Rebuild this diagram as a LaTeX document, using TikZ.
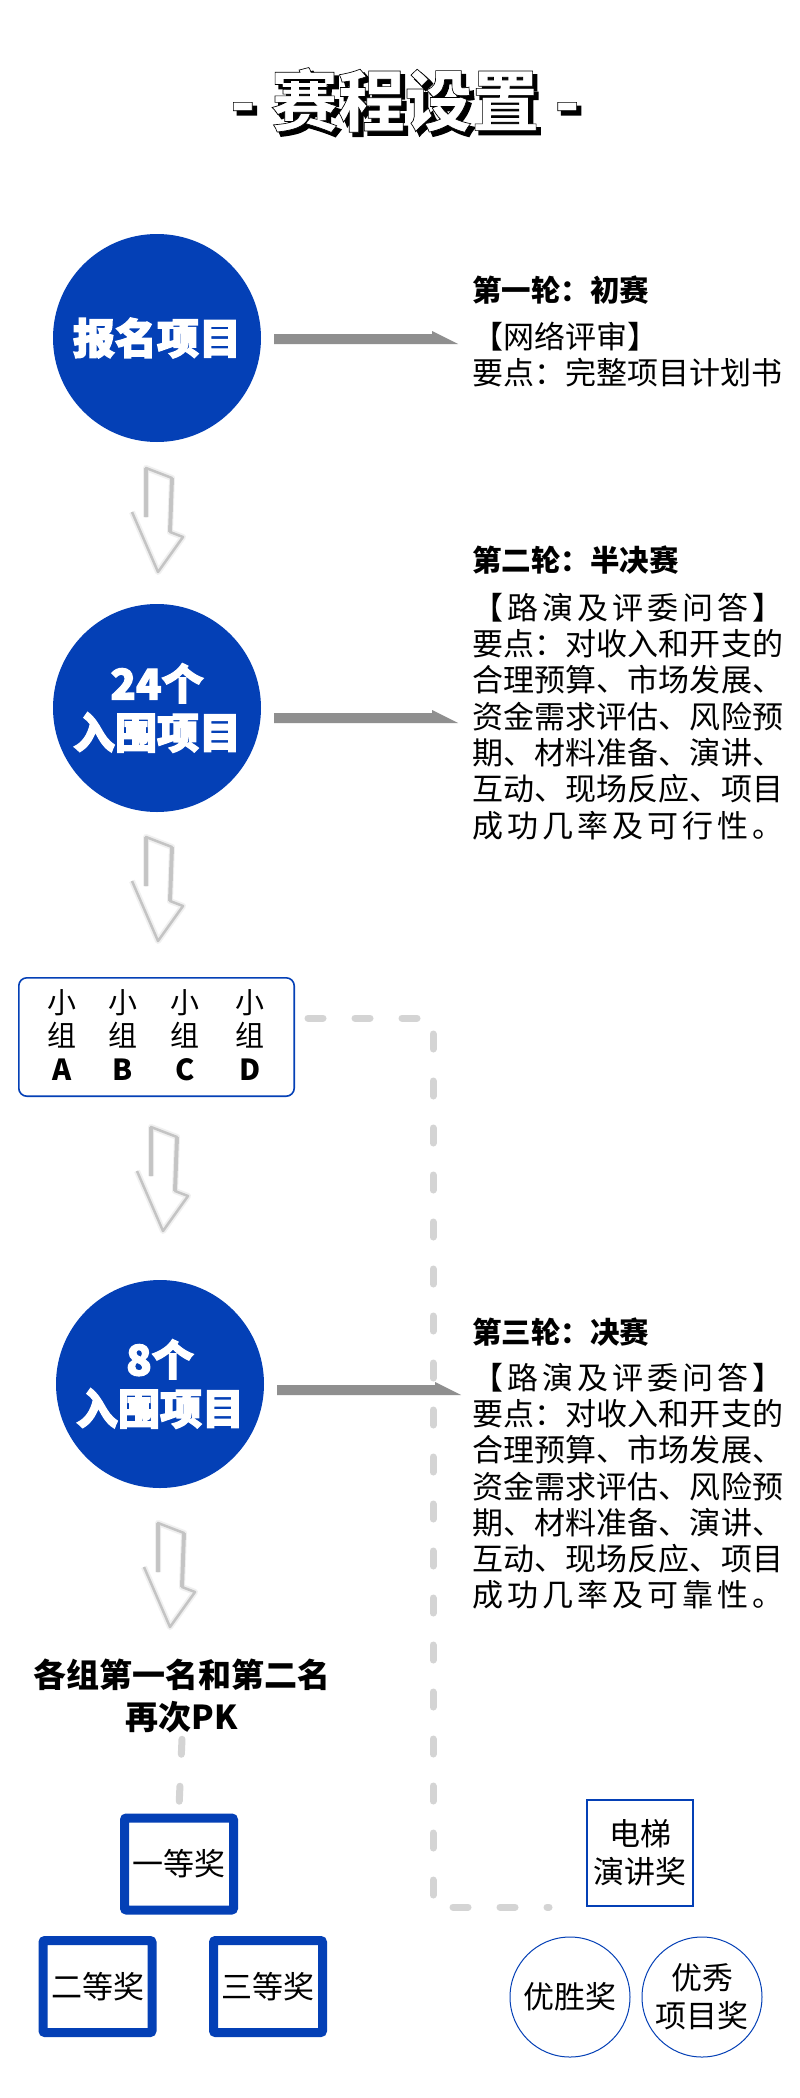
\documentclass[tikz,border=0pt]{standalone}
\usepackage{fontspec}
\setmainfont{Noto Sans CJK SC}
\newfontfamily\heavyfont{Noto Sans CJK SC}[FakeBold=3]
\newfontfamily\ttlfont{Noto Sans CJK SC}[FakeBold=1]
\newfontfamily\ttlshadowfont{Noto Sans CJK SC}[FakeBold=2.5]
\definecolor{cblue}{RGB}{4,64,182}
\definecolor{agray}{RGB}{143,143,143}
\definecolor{dgray}{RGB}{212,212,212}
\definecolor{ogray}{RGB}{196,196,196}
\def\sprd#1{\sprdA#1\relax\relax}
\def\sprdA#1#2{#1\ifx\relax#2\else\hfil\expandafter\sprdA\expandafter#2\fi}
\tikzset{
  bodytxt/.style={anchor=west, inner sep=0pt, font=\fontsize{31}{36}\selectfont},
  headtxt/.style={anchor=west, inner sep=0pt, font=\bfseries\fontsize{29.5}{36}\selectfont},
  bigcirc/.style={circle, fill=cblue, minimum size=208pt, inner sep=0pt, text=white, align=center, font=\heavyfont\bfseries\fontsize{42}{49}\selectfont},
  awardbox/.style={draw=cblue, fill=white, line width=9pt, rounded corners=2pt, minimum width=109pt, minimum height=92pt, inner sep=0pt, font=\fontsize{31}{36}\selectfont},
  thinbox/.style={draw=cblue, line width=2pt, minimum width=106pt, minimum height=106pt, inner sep=0pt, align=center, font=\fontsize{31}{38}\selectfont},
  thincirc/.style={circle, draw=cblue, line width=1pt, minimum size=120pt, inner sep=0pt, align=center, font=\fontsize{31}{38}\selectfont},
  grpcol/.style={inner sep=0pt, align=center, font=\fontsize{29}{33.5}\selectfont},
  dashline/.style={draw=dgray, line width=7pt, line cap=round, dash pattern=on 15pt off 32pt},
  darrowline/.style={draw=ogray, line width=2.5pt, line join=round},
  downarr/.pic={
    \draw[line width=6pt, draw=black!6, line join=round] (0,49) -- (0,0) -- (26,10) -- (24,64) -- (37,69) -- (12,104) -- (-14,44);
    \draw[line width=4pt, draw=black!22] (0,49) -- (0,0) (26,10) -- (24,64);
    \draw[darrowline] (0,49) -- (0,0) -- (26,10) -- (24,64) -- (37,69) -- (12,104) -- (-14,44);
  }
}
\newcommand\harrow[2]{\fill[agray] ([shift={(13,#2)}]#1.east) -- ++(158,0) -- ++(0,-3) -- ++(26,13) -- ++(-184,0) -- cycle;}
\newcommand\bline[3]{\node[bodytxt] (#1) at (472,#2) {\makebox[311pt][s]{\sprd{#3}}};}
\begin{document}
\begin{tikzpicture}[x=1pt,y=-1pt]
\useasboundingbox (0,0) rectangle (800,2098);
\fill[white] (0,0) rectangle (800,2098);

% title
\node[text=black, inner sep=0pt, font=\ttlshadowfont\bfseries\fontsize{67}{70}\selectfont] (ttlshadow) at (409,104) {- 赛程设置 -};
\node[text=white, inner sep=0pt, font=\ttlfont\bfseries\fontsize{67}{70}\selectfont] (ttl) at (405,100) {\special{pdf:literal direct 0 G}- 赛程设置 -};

% circles
\node[bigcirc] (c1) at (157,338) {报名项目};
\node[bigcirc] (c2) at (157,708) {24个\\入围项目};
\node[bigcirc] (c3) at (160,1384) {8个\\入围项目};

\harrow{c1}{-4}
\harrow{c2}{5}
\harrow{c3}{1}

% round 1
\node[headtxt] (r1h) at (472,290) {第一轮：初赛};
\node[bodytxt] (r1a) at (472,337) {【网络评审】};
\node[bodytxt] (r1b) at (472,373) {要点：完整项目计划书};

% round 2
\node[headtxt] (r2h) at (472,560) {第二轮：半决赛};
\bline{r2a}{608}{【路演及评委问答】}
\bline{r2b}{644}{要点：对收入和开支的}
\bline{r2c}{680}{合理预算、市场发展、}
\bline{r2d}{717}{资金需求评估、风险预}
\bline{r2e}{753}{期、材料准备、演讲、}
\bline{r2f}{789}{互动、现场反应、项目}
\bline{r2g}{826}{成功几率及可行性。}

% round 3
\node[headtxt] (r3h) at (472,1332) {第三轮：决赛};
\bline{r3a}{1378}{【路演及评委问答】}
\bline{r3b}{1414}{要点：对收入和开支的}
\bline{r3c}{1450}{合理预算、市场发展、}
\bline{r3d}{1487}{资金需求评估、风险预}
\bline{r3e}{1523}{期、材料准备、演讲、}
\bline{r3f}{1559}{互动、现场反应、项目}
\bline{r3g}{1595}{成功几率及可靠性。}

% down arrows
\pic at (146,468) {downarr};
\pic at (146,837) {downarr};
\pic at (151,1127) {downarr};
\pic at (158,1523) {downarr};

% group box
\node[draw=cblue, line width=1.6pt, rounded corners=8pt, minimum width=275.4pt, minimum height=118.4pt, inner sep=0pt] (grp) at (156.5,1037) {};
\node[grpcol] (ga) at (62,1035) {小\\组\\\textbf{A}};
\node[grpcol] (gb) at (123,1035) {小\\组\\\textbf{B}};
\node[grpcol] (gc) at (185,1035) {小\\组\\\textbf{C}};
\node[grpcol] (gd) at (250,1035) {小\\组\\\textbf{D}};

% PK text
\node[inner sep=0pt, align=center, font=\bfseries\fontsize{33}{42}\selectfont] (pk) at (182,1696) {各组第一名和第二名\\再次PK};

% awards
\node[awardbox] (p1) at (179,1864) {一等奖};
\node[awardbox] (p2) at (97.5,1986.5) {二等奖};
\node[awardbox] (p3) at (268,1986.5) {三等奖};
\node[thinbox] (dt) at (640,1853) {电梯\\演讲奖};
\node[thincirc] (w1) at (570,1997) {优胜奖};
\node[thincirc] (w2) at (702,1997) {优秀\\项目奖};

% dashed connectors
\coordinate (k1) at (433,1018);
\coordinate (k2) at (433,1907);
\draw[dashline] ([shift={(13,-19)}]grp.east) -- (k1) -- (k2) -- ([xshift=-37pt]dt.south west);
\draw[dashline] ([yshift=-6pt]pk.south) -- ([yshift=6pt]p1.north);
\end{tikzpicture}
\end{document}
